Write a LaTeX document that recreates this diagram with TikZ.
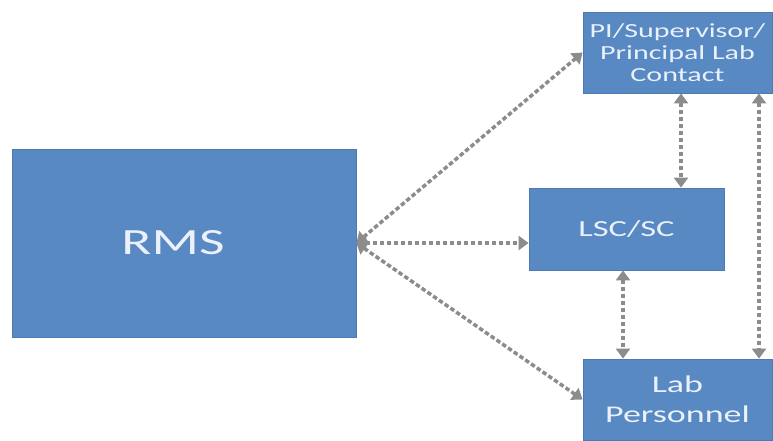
\documentclass[tikz,border=0pt]{standalone}
\usepackage{fontspec}
\setmainfont{Carlito}[FakeStretch=1.5]
\usetikzlibrary{arrows.meta}
\definecolor{boxblue}{HTML}{5889C2}
\definecolor{boxedge}{HTML}{4C7BB3}
\definecolor{boxtext}{HTML}{EAF1FA}
\definecolor{arrgray}{HTML}{8C8C8C}
\tikzset{
  box/.style={draw=boxedge, line width=0.8pt, fill=boxblue, text=boxtext, align=center, inner sep=0pt},
  arr/.style={draw=arrgray, line width=3.5pt, dash pattern=on 4.5pt off 2.5pt,
    {Triangle[length=10pt,width=14pt]}-{Triangle[length=10pt,width=14pt]}}
}
\begin{document}
\begin{tikzpicture}[x=1pt,y=-1pt]
\useasboundingbox (0,0) rectangle (773,440);
\node[box, minimum width=344pt, minimum height=188pt, font=\fontsize{37}{40}\selectfont] (RMS) at (184,243) {\hspace*{-22pt}RMS};
\node[box, minimum width=189pt, minimum height=81pt, font=\fontsize{20}{22}\selectfont] (PI) at (677.5,52.5) {PI/Supervisor/\\Principal Lab\\Contact};
\node[box, minimum width=195pt, minimum height=82pt, font=\fontsize{23}{28}\selectfont] (LSC) at (626.5,229) {LSC/SC};
\node[box, minimum width=189pt, minimum height=81pt, font=\fontsize{24}{30}\selectfont] (LAB) at (677.5,399.5) {Lab\\Personnel};
\draw[arr] (RMS.east) -- (PI.west);
\draw[arr] (RMS.east) -- (RMS.east -| LSC.west);
\draw[arr] (RMS.east) -- (LAB.west);
\draw[arr] ([xshift=3.5pt]PI.south) -- ([xshift=3.5pt]PI.south |- LSC.north);
\draw[arr] ([xshift=81.5pt]PI.south) -- ([xshift=81.5pt]PI.south |- LAB.north);
\draw[arr] ([xshift=-3.5pt]LSC.south) -- ([xshift=-3.5pt]LSC.south |- LAB.north);
\end{tikzpicture}
\end{document}
